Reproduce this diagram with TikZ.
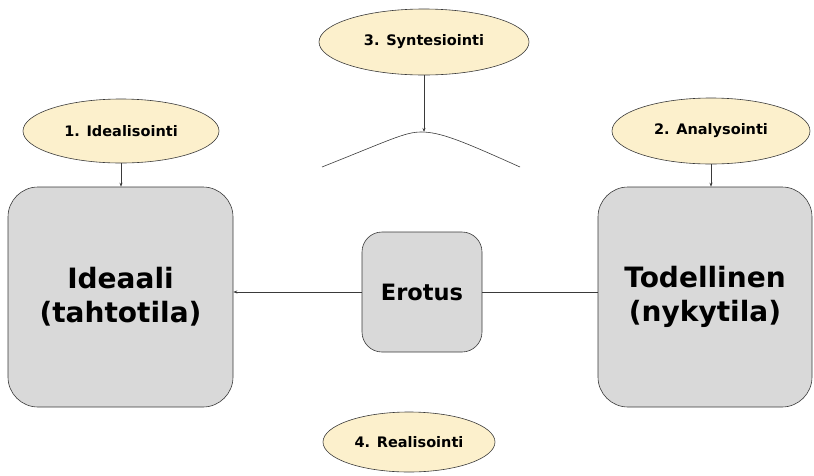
\documentclass[tikz,border=0pt]{standalone}
\usepackage{fontspec}
\setmainfont{DejaVu Sans}
\usetikzlibrary{shapes.geometric,arrows.meta}
\definecolor{cream}{HTML}{FCF0CC}
\definecolor{boxgray}{HTML}{D9D9D9}
\definecolor{edge}{HTML}{3A3A3A}
\tikzset{
  phase/.style={ellipse, draw=edge, fill=cream, line width=0.6pt, inner sep=0pt,
    font=\bfseries\fontsize{14.5}{16}\selectfont},
  bigbox/.style={rectangle, rounded corners=30pt, draw=edge, fill=boxgray, line width=0.6pt,
    align=center, font=\bfseries\fontsize{28}{34}\selectfont, inner sep=0pt},
  midbox/.style={rectangle, rounded corners=20pt, draw=edge, fill=boxgray, line width=0.6pt,
    font=\bfseries\fontsize{22.5}{26}\selectfont, inner sep=0pt},
  conn/.style={draw=edge, line width=0.6pt},
  arr/.style={conn, -{Stealth[length=4pt,width=3pt]}}
}
\begin{document}
\begin{tikzpicture}[x=1pt,y=-1pt]
\useasboundingbox (0,0) rectangle (814,475);
% ellipses
\node[phase, minimum width=196pt, minimum height=64pt] (e1) at (121,131) {1. Idealisointi};
\node[phase, minimum width=198pt, minimum height=66pt] (e2) at (711,131) {2. Analysointi};
\node[phase, minimum width=210pt, minimum height=66pt] (e3) at (424,42) {3. Syntesiointi};
\node[phase, minimum width=172pt, minimum height=60pt] (e4) at (409,442) {4. Realisointi};
% boxes
\node[bigbox, minimum width=225pt, minimum height=220pt] (ideal) at (120.5,297) {Ideaali\\(tahtotila)};
\node[bigbox, minimum width=214pt, minimum height=220pt] (real) at (705,297) {Todellinen\\(nykytila)};
\node[midbox, minimum width=120pt, minimum height=120pt] (ero) at (422,292) {Erotus};
% synthesis curve
\coordinate (cl) at (322,167);
\coordinate (cp) at (421,132);
\coordinate (cr) at (520,167);
\draw[conn] (cl) .. controls (390,140) and (405,132) .. (cp) .. controls (440,132) and (460,140) .. (cr);
% connectors
\draw[arr] (e1.south) -- (e1.south |- ideal.north);
\draw[arr] (e2.south) -- (e2.south |- real.north);
\draw[arr] (e3.south) -- (e3.south |- cp);
\draw[arr] (ero.west) -- (ero.west -| ideal.east);
\draw[conn] (ero.east) -- (ero.east -| real.west);
\end{tikzpicture}
\end{document}
